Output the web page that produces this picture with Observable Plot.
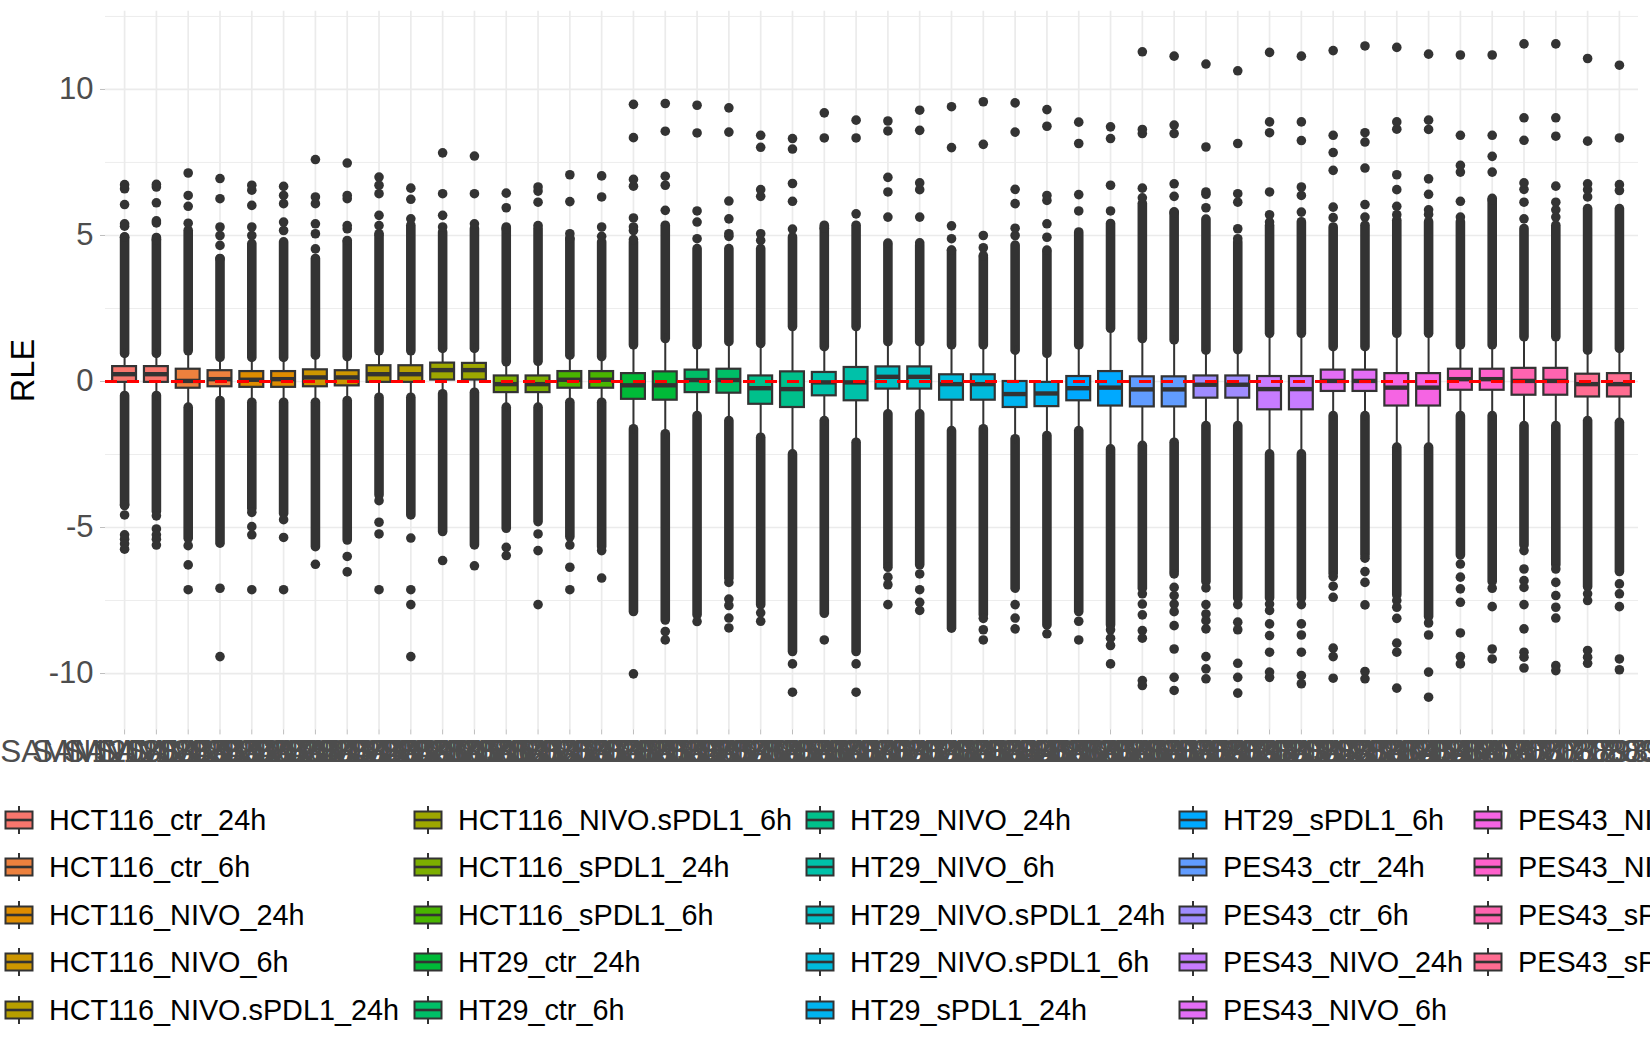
<!DOCTYPE html>
<html>
<head>
<meta charset="utf-8">
<script src="https://cdn.jsdelivr.net/npm/d3@7"></script>
<script src="https://cdn.jsdelivr.net/npm/@observablehq/plot@0.6"></script>
<style>
  html, body { margin: 0; padding: 0; background: #fff; }
  #wrap { position: relative; width: 1650px; height: 1050px; overflow: hidden; background: #fff;
          font-family: "Liberation Sans", Arial, Helvetica, sans-serif; }
  .lg-key { position: absolute; width: 30px; height: 30px; }
  .lg-txt { position: absolute; height: 40px; line-height: 40px; font-size: 28.8px; color: #000; white-space: nowrap; }
</style>
</head>
<body>
<div id="wrap"></div>
<script>
// ---------------- data ----------------
const samples = [
  "SAMN120883451","SAMN120883452","SAMN120883467","SAMN120883468","SAMN120883473","SAMN120883474",
  "SAMN120883489","SAMN120883490","SAMN120883505","SAMN120883506","SAMN120883521","SAMN120883522",
  "SAMN120883537","SAMN120883538","SAMN120883553","SAMN120883554","SAMN120883569","SAMN120883570",
  "SAMN120883585","SAMN120883586","SAMN120883601","SAMN120883602","SAMN120883617","SAMN120883618",
  "SAMN120883633","SAMN120883634","SAMN120883649","SAMN120883650","SAMN120883665","SAMN120883666",
  "SAMN120883681","SAMN120883682","SAMN120883697","SAMN120883698","SAMN120883713","SAMN120883714",
  "SAMN120883729","SAMN120883730","SAMN120883745","SAMN120883746","SAMN120883761","SAMN120883762",
  "SAMN120883777","SAMN120883778","SAMN120883793","SAMN120883794","SAMN120883802","SAMN120883828"
];

const groups = [
  "HCT116_ctr_24h","HCT116_ctr_6h","HCT116_NIVO_24h","HCT116_NIVO_6h","HCT116_NIVO.sPDL1_24h",
  "HCT116_NIVO.sPDL1_6h","HCT116_sPDL1_24h","HCT116_sPDL1_6h","HT29_ctr_24h","HT29_ctr_6h",
  "HT29_NIVO_24h","HT29_NIVO_6h","HT29_NIVO.sPDL1_24h","HT29_NIVO.sPDL1_6h","HT29_sPDL1_24h",
  "HT29_sPDL1_6h","PES43_ctr_24h","PES43_ctr_6h","PES43_NIVO_24h","PES43_NIVO_6h",
  "PES43_NIVO.sPDL1_24h","PES43_NIVO.sPDL1_6h","PES43_sPDL1_24h","PES43_sPDL1_6h"
];

// two samples per group, in order
const sampleGroup = samples.map((s, i) => groups[Math.floor(i / 2)]);

const q3 = [0.51,0.51,0.42,0.37,0.34,0.34,0.40,0.37,0.54,0.54,0.63,0.62,0.19,0.19,0.34,0.34,
            0.27,0.33,0.39,0.42,0.19,0.33,0.31,0.48,0.50,0.50,0.23,0.23,0.00,-0.03,0.17,0.34,
            0.16,0.16,0.19,0.19,0.17,0.17,0.39,0.39,0.27,0.27,0.42,0.42,0.45,0.45,0.25,0.27];
const median = [0.25,0.25,0.02,0.08,0.06,0.08,0.14,0.14,0.25,0.25,0.39,0.39,-0.09,-0.09,0.06,0.06,
            -0.13,-0.13,0.05,0.05,-0.23,-0.26,-0.03,-0.03,0.16,0.16,-0.09,-0.09,-0.43,-0.41,-0.23,-0.21,
            -0.27,-0.27,-0.11,-0.11,-0.26,-0.26,0.02,0.02,-0.21,-0.21,0.08,0.08,0.02,0.02,-0.09,-0.09];
const q1 = [-0.03,-0.03,-0.23,-0.18,-0.20,-0.20,-0.18,-0.15,-0.03,-0.03,0.05,0.05,-0.38,-0.38,-0.23,-0.23,
            -0.61,-0.64,-0.38,-0.40,-0.78,-0.89,-0.49,-0.66,-0.26,-0.26,-0.64,-0.64,-0.89,-0.86,-0.66,-0.84,
            -0.87,-0.87,-0.57,-0.57,-0.97,-0.97,-0.34,-0.34,-0.84,-0.84,-0.30,-0.30,-0.47,-0.47,-0.53,-0.53];
const whiskerHigh = [1.11,1.11,1.20,0.97,0.97,0.97,1.05,1.00,1.20,1.20,1.28,1.28,0.82,0.84,1.05,1.00,
            1.40,1.62,1.40,1.51,1.45,2.03,1.34,2.03,1.51,1.51,1.40,1.40,1.22,1.11,1.40,1.97,
            1.62,1.57,1.22,1.24,1.80,1.80,1.34,1.34,1.80,1.80,1.40,1.40,1.68,1.68,1.22,1.28];
const whiskerLow = [-0.66,-0.66,-1.06,-0.83,-0.89,-0.89,-0.89,-0.83,-0.72,-0.72,-0.60,-0.55,-1.06,-1.06,-0.89,-0.89,
            -1.80,-1.97,-1.35,-1.52,-2.09,-2.66,-1.52,-2.26,-1.29,-1.29,-1.86,-1.80,-2.14,-2.03,-1.86,-2.49,
            -2.37,-2.26,-1.69,-1.69,-2.66,-2.66,-1.35,-1.35,-2.43,-2.43,-1.35,-1.35,-1.69,-1.69,-1.52,-1.58];
// extent of the continuous band of overlapping outliers
const denseHigh = [4.77,4.75,5.00,4.03,4.54,4.60,4.03,4.60,4.83,5.17,4.94,5.06,5.11,5.06,4.71,4.60,
            4.60,5.17,4.37,4.37,4.37,4.77,5.17,5.17,4.49,4.49,4.31,4.08,4.49,4.26,4.94,5.23,
            5.92,5.63,5.38,4.60,5.17,5.29,5.11,5.17,5.34,5.29,5.29,6.09,5.06,5.17,5.74,5.74];
const denseLow = [-4.10,-4.30,-5.22,-5.39,-4.20,-4.37,-5.51,-5.28,-3.74,-4.42,-4.99,-5.45,-4.88,-4.65,-5.17,-5.51,
            -7.73,-8.02,-7.84,-6.59,-7.50,-9.10,-7.79,-9.10,-6.13,-6.13,-8.30,-7.84,-6.93,-8.19,-7.73,-8.19,
            -6.93,-6.36,-6.70,-7.27,-7.27,-7.27,-6.42,-5.79,-7.16,-7.90,-5.79,-6.70,-5.45,-6.13,-6.88,-6.36];
// separate outliers
const outHigh = [
  [4.94,5.32,5.40,6.06,6.60,6.74],[4.85,5.43,5.50,6.12,6.66,6.75],[5.42,6.00,6.37,7.14],
  [4.20,4.66,5.00,5.29,6.26,6.95],[5.00,5.29,6.03,6.55,6.72],[5.17,5.46,6.09,6.37,6.68],
  [4.54,5.06,5.40,6.09,6.32,7.60],[4.83,5.23,5.34,6.26,6.37,7.48],[5.06,5.34,5.69,6.43,6.72,7.00],
  [5.57,6.24,6.62],[5.29,5.69,6.43,7.83],[5.40,6.43,7.72],[5.23,5.95,6.45],[5.34,6.14,6.52,6.66],
  [4.90,5.06,6.16,7.08],[4.97,5.29,6.32,7.04],[4.86,5.17,5.29,5.60,6.69,6.92,8.35,9.49],
  [5.86,6.72,7.03,8.57,9.52],[4.89,5.46,5.84,8.51,9.46],[4.97,5.06,5.57,6.18,8.54,9.37],
  [4.83,5.06,6.34,6.57,8.02,8.43],[5.22,6.17,6.78,7.96,8.32],[5.25,8.34,9.20],[5.74,8.34,8.95],
  [4.74,5.63,6.49,6.99,8.58,8.92],[4.75,5.63,6.57,6.80,8.60,9.29],[4.50,4.89,5.33,8.01,9.41],
  [4.31,4.58,5.00,8.12,9.58],[5.00,5.25,6.09,6.58,8.54,9.54],[4.50,4.94,5.40,6.20,6.37,8.74,9.31],
  [5.84,6.40,8.15,8.88],[5.84,6.72,8.32,8.72],[6.29,6.62,8.49,8.63,11.29],
  [5.78,6.34,6.77,8.49,8.78,11.14],[5.95,6.41,6.49,8.03,10.87],[4.89,5.23,6.14,6.43,8.15,10.64],
  [5.46,5.71,6.49,8.52,8.89,11.27],[5.80,6.37,6.66,8.25,8.89,11.14],[5.61,5.97,7.23,7.84,8.43,11.33],
  [5.63,6.06,7.31,8.20,8.52,11.49],[5.71,6.00,6.57,7.08,8.64,8.89,11.44],[5.72,5.88,6.41,6.94,8.63,8.95,11.21],
  [5.63,6.17,7.17,7.40,8.43,11.18],[6.22,7.17,7.71,8.43,11.18],[5.57,6.14,6.58,6.80,8.26,9.03,11.56],
  [5.63,5.88,6.14,6.69,8.40,9.03,11.56],[6.32,6.57,6.77,8.23,11.06],[6.54,6.74,8.34,10.83]
];
const outLow = [
  [-4.22,-4.57,-5.25,-5.40,-5.56,-5.74],[-4.60,-5.05,-5.25,-5.40,-5.60],[-5.62,-6.28,-7.13],
  [-7.08,-9.42],[-4.48,-4.97,-5.25,-7.13],[-4.73,-5.34,-7.13],[-6.26],[-5.99,-6.52],
  [-4.08,-4.82,-5.22,-7.13],[-5.36,-7.13,-7.64,-9.42],[-6.13],[-6.31],[-5.68,-5.96],
  [-5.22,-5.79,-7.64],[-5.60,-6.36,-7.13],[-5.79,-6.73],[-10.01],[-8.56,-8.85],[-8.22],
  [-6.88,-7.45,-7.67,-8.10,-8.44],[-7.92,-8.21],[-9.67,-10.64],[-8.85],[-9.67,-10.64],
  [-6.36,-6.70,-6.96,-7.64],[-6.59,-7.13,-7.56,-7.84],[],[-8.11,-8.50,-8.85],[-7.64,-8.10,-8.47],
  [-8.64],[-8.21,-8.85],[-8.50,-8.79,-9.04,-9.67],[-7.27,-7.62,-7.99,-8.53,-8.79,-10.24,-10.41],
  [-6.59,-7.05,-7.33,-7.62,-7.88,-8.36,-9.16,-10.13,-10.58],[-7.07,-7.64,-7.96,-8.19,-8.47,-9.42,-9.84,-10.18],
  [-7.64,-8.24,-8.50,-9.65,-10.13,-10.67],[-7.62,-7.84,-8.30,-8.70,-9.27,-9.95,-10.13],
  [-7.64,-8.30,-8.68,-9.27,-10.07,-10.35],[-6.68,-7.01,-7.39,-9.13,-9.42,-10.16],
  [-6.05,-6.51,-6.88,-7.65,-9.93,-10.18],[-7.50,-7.73,-8.11,-8.96,-9.27,-10.50],
  [-8.27,-8.68,-9.95,-10.81],[-6.25,-6.70,-7.10,-7.56,-8.61,-9.42,-9.67],[-7.08,-7.71,-9.16,-9.50],
  [-5.79,-6.42,-6.82,-7.05,-7.64,-8.47,-9.27,-9.44,-9.81],[-6.42,-6.88,-7.33,-7.73,-8.10,-9.73,-9.90],
  [-7.27,-7.50,-9.21,-9.44,-9.65],[-6.93,-7.27,-7.71,-9.50,-9.87]
];

const yTicks = [-10, -5, 0, 5, 10];
const yMinor = [-7.5, -2.5, 2.5, 7.5, 12.5];

// ---------------- ggplot2 default hue palette (polar LUV, c=100, l=65) ----------------
function hclHex(h, c, l) {
  const WY = 100, Wu = 0.1978398, Wv = 0.4683363;
  const hr = h * Math.PI / 180;
  const U = c * Math.cos(hr), V = c * Math.sin(hr);
  const Y = WY * (l > 7.999592 ? Math.pow((l + 16) / 116, 3) : l / 903.3);
  const u = U / (13 * l) + Wu, v = V / (13 * l) + Wv;
  const X = 9 * Y * u / (4 * v);
  const Z = -X / 3 - 5 * Y + 3 * Y / v;
  const g = t => t > 0.00304 ? 1.055 * Math.pow(t, 1 / 2.4) - 0.055 : 12.92 * t;
  const ch = t => Math.round(255 * Math.max(0, Math.min(1, g(t))));
  const R = ch(( 3.240479 * X - 1.537150 * Y - 0.498535 * Z) / WY);
  const G = ch((-0.969256 * X + 1.875992 * Y + 0.041556 * Z) / WY);
  const B = ch(( 0.055648 * X - 0.204043 * Y + 1.057311 * Z) / WY);
  return "#" + [R, G, B].map(x => x.toString(16).padStart(2, "0")).join("");
}
const colors = groups.map((g, i) => hclHex(15 + 360 * i / groups.length, 100, 65));

// ---------------- tables built from the arrays ----------------
const boxes = samples.map((s, i) => ({
  sample: s, group: sampleGroup[i], q1: q1[i], med: median[i], q3: q3[i],
  wlo: whiskerLow[i], whi: whiskerHigh[i], dlo: denseLow[i], dhi: denseHigh[i]
}));
const outliers = samples.flatMap((s, i) =>
  outHigh[i].concat(outLow[i]).map(v => ({ sample: s, value: v })));

const INK = "#333333";
const GRID = "#EBEBEB";
const R = 4.8;

const chart = Plot.plot({
  width: 1650,
  height: 790,
  marginLeft: 105,
  marginRight: 12,
  marginTop: 10.7,
  marginBottom: 60.6,
  style: { fontFamily: '"Liberation Sans", Arial, Helvetica, sans-serif', background: "white",
           color: "#4D4D4D", overflow: "visible" },
  x: { type: "band", domain: samples, paddingInner: 0.25, paddingOuter: 0.225, axis: null },
  y: { domain: [-11.93, 12.68], axis: null },
  color: { domain: groups, range: colors },
  marks: [
    Plot.ruleY(yMinor, { stroke: GRID, strokeWidth: 0.9 }),
    Plot.ruleY(yTicks, { stroke: GRID, strokeWidth: 1.7 }),
    Plot.ruleX(samples, { stroke: GRID, strokeWidth: 1.7 }),
    // dense outlier bands
    Plot.ruleX(boxes, { x: "sample", y1: "whi", y2: "dhi", stroke: INK, strokeWidth: 2 * R,
                        strokeLinecap: "round", insetTop: R, insetBottom: R }),
    Plot.ruleX(boxes, { x: "sample", y1: "dlo", y2: "wlo", stroke: INK, strokeWidth: 2 * R,
                        strokeLinecap: "round", insetTop: R, insetBottom: R }),
    Plot.dot(outliers, { x: "sample", y: "value", r: R, fill: INK, stroke: "none" }),
    // whiskers
    Plot.ruleX(boxes, { x: "sample", y1: "wlo", y2: "whi", stroke: INK, strokeWidth: 2 }),
    // boxes
    Plot.barY(boxes, { x: "sample", y1: "q1", y2: "q3", fill: "group", stroke: INK, strokeWidth: 2.2 }),
    Plot.tickY(boxes, { x: "sample", y: "med", stroke: INK, strokeWidth: 4.4 }),
    // reference line
    Plot.ruleY([0], { stroke: "#FF0000", strokeWidth: 3, strokeDasharray: "12,10" }),
    // axes
    Plot.axisY(yTicks, { tickSize: 5, tickPadding: 7, fontSize: 31, stroke: "#BEBEBE",
                         fill: "#4D4D4D", label: null, tickFormat: d => String(d) }),
    Plot.axisX(samples, { tickSize: 5, tickPadding: 5, fontSize: 31.5, stroke: "#BEBEBE",
                          fill: "#4D4D4D", label: null }),
    Plot.text(["RLE"], { frameAnchor: "left", dx: -82, rotate: -90, fontSize: 32.5,
                         fill: "#000000", textAnchor: "middle" })
  ]
});

const wrap = document.getElementById("wrap");
wrap.appendChild(chart);

// ---------------- legend (five columns, filled column-wise) ----------------
const legendColLeft = [5, 414, 806, 1179, 1474];
const legendRowCenter = [820, 867, 915, 962, 1009.5];
groups.forEach((g, i) => {
  const col = Math.floor(i / 5), row = i % 5;
  const left = legendColLeft[col], cy = legendRowCenter[row];
  const key = document.createElementNS("http://www.w3.org/2000/svg", "svg");
  key.setAttribute("class", "lg-key");
  key.setAttribute("width", 30);
  key.setAttribute("height", 30);
  key.style.left = (left - 1) + "px";
  key.style.top = (cy - 15) + "px";
  key.innerHTML =
    `<line x1="15" x2="15" y1="1" y2="29" stroke="${INK}" stroke-width="2"/>` +
    `<rect x="1.5" y="6.5" width="27" height="17" fill="${colors[i]}" stroke="${INK}" stroke-width="2"/>` +
    `<line x1="1.5" x2="28.5" y1="15" y2="15" stroke="${INK}" stroke-width="2.6"/>`;
  wrap.appendChild(key);
  const t = document.createElement("div");
  t.className = "lg-txt";
  t.style.left = (left + 44) + "px";
  t.style.top = (cy - 20) + "px";
  t.textContent = g;
  wrap.appendChild(t);
});
</script>
</body>
</html>
